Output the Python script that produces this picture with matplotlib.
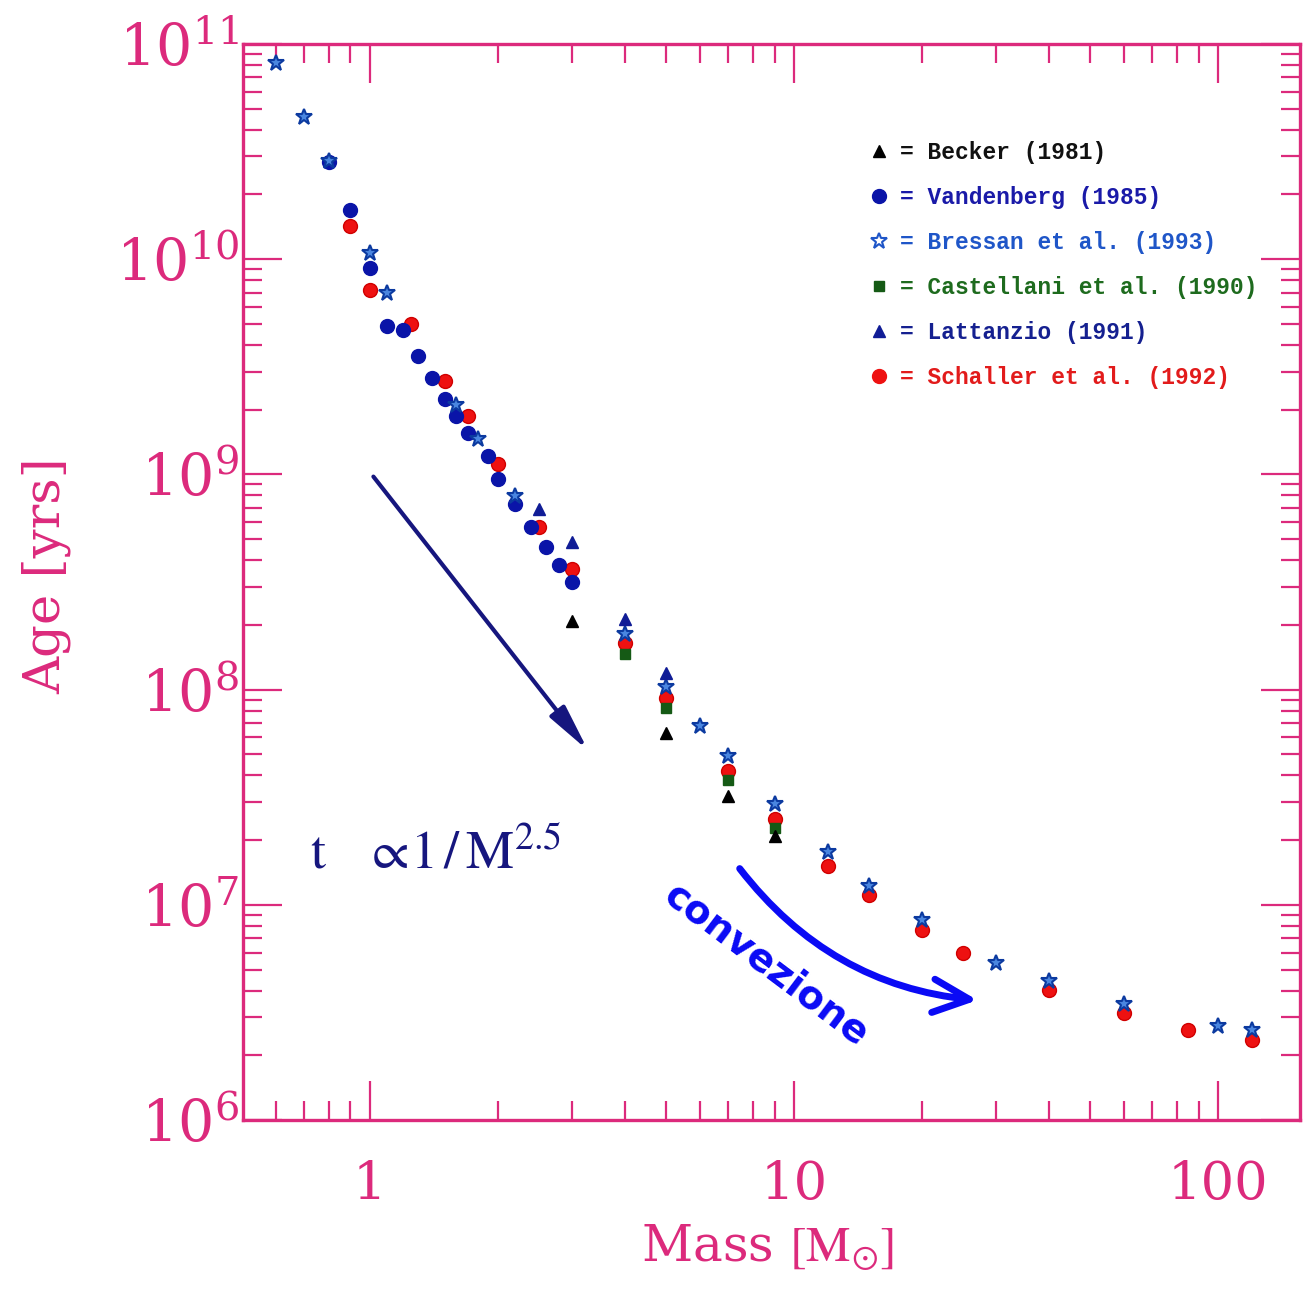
import matplotlib
matplotlib.use("Agg")
import matplotlib.pyplot as plt
from matplotlib.ticker import LogLocator, FixedLocator, NullFormatter
from matplotlib.lines import Line2D

plt.rcParams['mathtext.fontset'] = 'stix'
plt.rcParams['font.family'] = ['DejaVu Serif']

PINK = '#dc2a7c'

# masses (solar units) and main-sequence ages (yr)
becker_m = [3, 5, 7, 9]
becker_t = [2.08e8, 6.3e7, 3.2e7, 2.09e7]

vandenberg_m = [0.8, 0.9, 1.0, 1.1, 1.2, 1.3, 1.4, 1.5, 1.6, 1.7, 1.9, 2.0, 2.2, 2.4, 2.6, 2.8, 3.0]
vandenberg_t = [2.83e10, 1.69e10, 9.1e9, 4.9e9, 4.7e9, 3.56e9, 2.81e9, 2.23e9, 1.86e9, 1.56e9,
                1.22e9, 9.5e8, 7.3e8, 5.7e8, 4.6e8, 3.78e8, 3.16e8]

bressan_m = [0.6, 0.7, 0.8, 1.0, 1.1, 1.6, 1.8, 2.2, 4, 5, 6, 7, 9, 12, 15, 20, 30, 40, 60, 100, 120]
bressan_t = [8.15e10, 4.6e10, 2.85e10, 1.07e10, 6.97e9, 2.11e9, 1.46e9, 7.96e8, 1.82e8, 1.03e8,
             6.8e7, 4.94e7, 2.94e7, 1.76e7, 1.23e7, 8.5e6, 5.4e6, 4.45e6, 3.47e6, 2.75e6, 2.61e6]

castellani_m = [4, 5, 7, 9]
castellani_t = [1.46e8, 8.2e7, 3.8e7, 2.27e7]

lattanzio_m = [2.5, 3, 4, 5]
lattanzio_t = [6.9e8, 4.85e8, 2.14e8, 1.2e8]

schaller_m = [0.9, 1.0, 1.25, 1.5, 1.7, 2.0, 2.5, 3, 4, 5, 7, 9, 12, 15, 20, 25, 40, 60, 85, 120]
schaller_t = [1.43e10, 7.2e9, 5.0e9, 2.71e9, 1.86e9, 1.12e9, 5.7e8, 3.62e8, 1.64e8, 9.1e7,
              4.2e7, 2.51e7, 1.52e7, 1.11e7, 7.64e6, 6.0e6, 4.03e6, 3.14e6, 2.63e6, 2.37e6]

legend_labels = ["= Becker (1981)", "= Vandenberg (1985)", "= Bressan et al. (1993)",
                 "= Castellani et al. (1990)", "= Lattanzio (1991)", "= Schaller et al. (1992)"]
legend_colors = ['#111111', '#1a1aa8', '#1f56c8', '#1e6b1e', '#152090', '#e21b1b']

fig = plt.figure(figsize=(13.06, 12.92), dpi=100)
ax = fig.add_axes([0.186, 0.133, 0.8094, 0.833])
ax.set_xscale('log')
ax.set_yscale('log')
ax.set_xlim(0.502, 156)
ax.set_ylim(1e6, 1e11)

ax.plot(schaller_m, schaller_t, 'o', ms=10, color='#ee1111', mec='#d00000', zorder=3)
ax.plot(vandenberg_m, vandenberg_t, 'o', ms=10, color='#0a14a8', zorder=4)
ax.plot(castellani_m, castellani_t, 's', ms=7, color='#155a15', zorder=4)
ax.plot(bressan_m, bressan_t, '*', ms=12, mfc='#4a86e0', mec='#0c3aa0', mew=1.5, zorder=5)
ax.plot(lattanzio_m, lattanzio_t, '^', ms=9, color='#101c96', zorder=5)
ax.plot(becker_m, becker_t, '^', ms=9, color='black', zorder=5)

# legend
handles = [
    Line2D([], [], ls='none', marker='^', ms=9, color='black'),
    Line2D([], [], ls='none', marker='o', ms=10, color='#0a14a8'),
    Line2D([], [], ls='none', marker='*', ms=12, mfc='white', mec='#1f56c8', mew=1.5),
    Line2D([], [], ls='none', marker='s', ms=7, color='#155a15'),
    Line2D([], [], ls='none', marker='^', ms=9, color='#101c96'),
    Line2D([], [], ls='none', marker='o', ms=10, color='#ee1111'),
]
leg = ax.legend(handles, legend_labels, loc='upper left', bbox_to_anchor=(0.58, 0.920),
                frameon=False, borderpad=0, handlelength=1.0, handletextpad=0.4,
                labelspacing=0.96, labelcolor=legend_colors,
                prop={'family': 'Liberation Mono', 'weight': 'bold', 'size': 16.5})

# straight arrow and scaling law
ax.annotate('', xy=(3.3, 5.1e7), xytext=(1.01, 1.0e9),
            arrowprops=dict(arrowstyle='-|>,head_length=1.4,head_width=0.28',
                            color='#16167e', lw=3, mutation_scale=20))
ax.text(0.721, 1.48e7, r'$\mathrm{t}\ \ \ \propto\! 1\,/\,\mathrm{M}^{2.5}$', color='#16167e',
        fontsize=39, va='baseline', ha='left')

# curved convection arrow
ax.annotate('', xy=(27.5, 3.6e6), xytext=(7.38, 1.51e7),
            arrowprops=dict(arrowstyle='->,head_length=1.3,head_width=0.6',
                            connectionstyle='arc3,rad=0.22',
                            color='#0a0af5', lw=5, mutation_scale=20))
ax.text(8.59, 5.25e6, 'convezione', color='#0a0af5', fontsize=28, fontweight='bold',
        family='DejaVu Sans', rotation=-37, rotation_mode='anchor', ha='center', va='center')

# axes styling
for sp in ax.spines.values():
    sp.set_color(PINK)
    sp.set_linewidth(2.4)

ax.xaxis.set_major_locator(FixedLocator([1, 10, 100]))
ax.set_xticklabels(['1', '10', '100'])
ax.xaxis.set_minor_locator(LogLocator(base=10, subs=range(2, 10), numticks=20))
ax.xaxis.set_minor_formatter(NullFormatter())
ax.yaxis.set_major_locator(LogLocator(base=10, numticks=10))
ax.yaxis.set_minor_locator(LogLocator(base=10, subs=range(2, 10), numticks=20))
ax.yaxis.set_minor_formatter(NullFormatter())

ax.tick_params(which='both', direction='in', top=True, right=True, color=PINK, width=1.6)
ax.tick_params(which='major', length=28)
ax.tick_params(which='minor', length=14)
ax.tick_params(axis='x', which='major', pad=28, labelsize=38, labelcolor=PINK)
ax.tick_params(axis='y', which='major', pad=3, labelsize=41, labelcolor=PINK)
for lab in ax.get_xticklabels():
    lab.set_family('DejaVu Serif')

ax.set_xlabel(r'Mass $[\mathrm{M}_{\odot}]$', fontsize=36, color=PINK)
ax.set_ylabel('Age [yrs]', fontsize=37, color=PINK)
ax.xaxis.set_label_coords(0.496, -0.095)
ax.yaxis.set_label_coords(-0.162, 0.506)

fig.savefig('out.png', dpi=100)
